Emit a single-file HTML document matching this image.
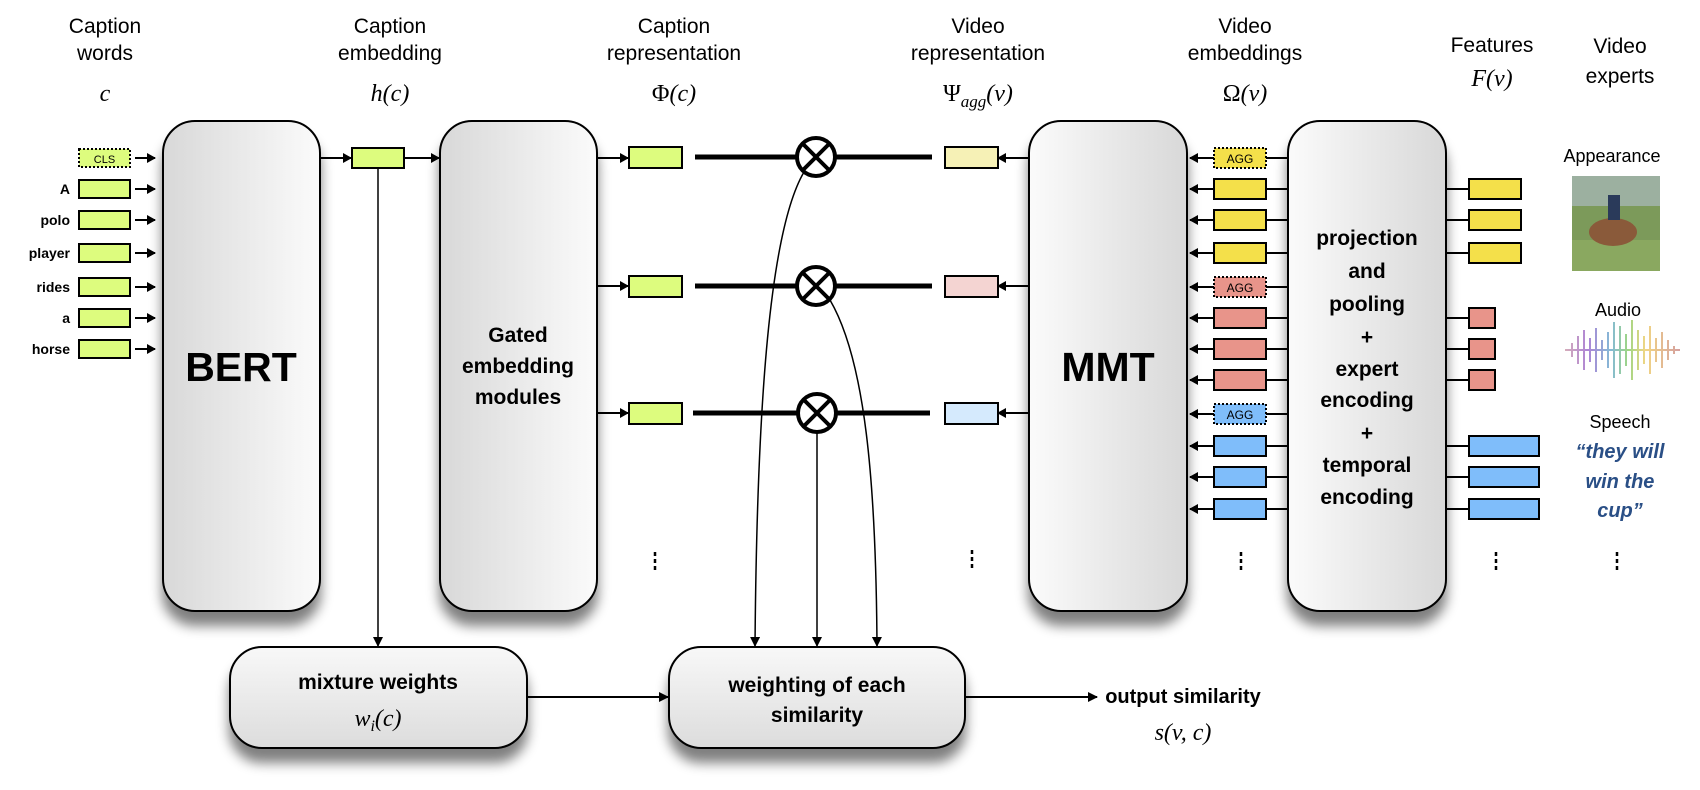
<!DOCTYPE html>
<html><head><meta charset="utf-8"><style>
html,body{margin:0;padding:0;background:#fff;}
svg{display:block;}
text{font-family:"Liberation Sans",sans-serif;}
.h{font-size:21px;text-anchor:middle;fill:#000;}
.m{font-family:"Liberation Serif",serif;font-style:italic;font-size:24px;text-anchor:middle;}
.w{font-size:14px;font-weight:bold;text-anchor:end;}
.b{font-size:21px;font-weight:bold;text-anchor:middle;}
</style></head><body>
<svg width="1700" height="790" viewBox="0 0 1700 790" xmlns="http://www.w3.org/2000/svg">
<defs>
<linearGradient id="g" x1="0" x2="1" y1="0" y2="0"><stop offset="0" stop-color="#d8d8d8"/><stop offset="1" stop-color="#fbfbfb"/></linearGradient>
<linearGradient id="g2" x1="0" x2="1" y1="0" y2="0"><stop offset="0" stop-color="#fbfbfb"/><stop offset="1" stop-color="#d8d8d8"/></linearGradient>
<linearGradient id="g3" x1="0" x2="0" y1="0" y2="1"><stop offset="0" stop-color="#f8f8f8"/><stop offset="1" stop-color="#dcdcdc"/></linearGradient>
<filter id="sh" x="-20%" y="-10%" width="140%" height="130%"><feGaussianBlur in="SourceAlpha" stdDeviation="6"/><feOffset dy="14"/><feComponentTransfer><feFuncA type="linear" slope="0.5"/></feComponentTransfer><feMerge><feMergeNode/><feMergeNode in="SourceGraphic"/></feMerge></filter>
<marker id="a" markerWidth="9" markerHeight="10" refX="8" refY="5" orient="auto" markerUnits="userSpaceOnUse"><path d="M0,0 L9,5 L0,10z" fill="#000"/></marker>
<marker id="a2" markerWidth="10" markerHeight="10" refX="9" refY="5" orient="auto" markerUnits="userSpaceOnUse"><path d="M0,0 L10,5 L0,10z" fill="#000"/></marker>
<linearGradient id="wave" x1="0" x2="1"><stop offset="0" stop-color="#c9a"/><stop offset=".2" stop-color="#96c"/><stop offset=".4" stop-color="#6ac"/><stop offset=".55" stop-color="#8c6"/><stop offset=".7" stop-color="#ec6"/><stop offset="1" stop-color="#c88"/></linearGradient>
</defs>

<text class="h" x="105" y="33">Caption</text><text class="h" x="105" y="60">words</text><text class="m" x="105" y="101">c</text>
<text class="h" x="390" y="33">Caption</text><text class="h" x="390" y="60">embedding</text><text class="m" x="390" y="101">h(c)</text>
<text class="h" x="674" y="33">Caption</text><text class="h" x="674" y="60">representation</text><text class="m" x="674" y="101"><tspan font-style="normal">Φ</tspan>(c)</text>
<text class="h" x="978" y="33">Video</text><text class="h" x="978" y="60">representation</text><text class="m" x="978" y="101"><tspan font-style="normal">Ψ</tspan><tspan font-size="17" dy="6">agg</tspan><tspan dy="-6">(v)</tspan></text>
<text class="h" x="1245" y="33">Video</text><text class="h" x="1245" y="60">embeddings</text><text class="m" x="1245" y="101"><tspan font-style="normal">Ω</tspan>(v)</text>
<text class="h" x="1492" y="52">Features</text><text class="m" x="1492" y="86">F(v)</text>
<text class="h" x="1620" y="53">Video</text><text class="h" x="1620" y="83">experts</text>

<g filter="url(#sh)" stroke="#000" stroke-width="2">
<rect x="163" y="121" width="157" height="490" rx="32" fill="url(#g)"/>
<rect x="440" y="121" width="157" height="490" rx="32" fill="url(#g)"/>
<rect x="1029" y="121" width="158" height="490" rx="32" fill="url(#g2)"/>
<rect x="1288" y="121" width="158" height="490" rx="32" fill="url(#g2)"/>
<rect x="230" y="647" width="297" height="101" rx="32" fill="url(#g3)"/>
<rect x="669" y="647" width="296" height="101" rx="32" fill="url(#g3)"/>
</g>
<text x="241" y="381" font-size="41" font-weight="bold" text-anchor="middle">BERT</text>
<text x="1108" y="381" font-size="41" font-weight="bold" text-anchor="middle">MMT</text>
<text class="b" x="518" y="342">Gated</text><text class="b" x="518" y="373">embedding</text><text class="b" x="518" y="404">modules</text>
<text class="b" x="1367" y="245">projection</text><text class="b" x="1367" y="278">and</text><text class="b" x="1367" y="311">pooling</text><text class="b" x="1367" y="344">+</text><text class="b" x="1367" y="376">expert</text><text class="b" x="1367" y="407">encoding</text><text class="b" x="1367" y="440">+</text><text class="b" x="1367" y="472">temporal</text><text class="b" x="1367" y="504">encoding</text>
<text class="b" x="378" y="689">mixture weights</text><text class="m" x="378" y="726">w<tspan font-size="16" dy="5">i</tspan><tspan dy="-5">(c)</tspan></text>
<text class="b" x="817" y="692">weighting of each</text><text class="b" x="817" y="722">similarity</text>
<text class="b" x="1183" y="703" style="font-size:20px">output similarity</text><text class="m" x="1183" y="740">s(v, c)</text>

<g stroke="#000" stroke-width="2" fill="#ddfc7e">
<rect x="79" y="149" width="51" height="18" stroke-dasharray="2,2"/>
<rect x="79" y="180" width="51" height="18"/><rect x="79" y="211" width="51" height="18"/>
<rect x="79" y="244" width="51" height="18"/><rect x="79" y="278" width="51" height="18"/>
<rect x="79" y="309" width="51" height="18"/><rect x="79" y="340" width="51" height="18"/>
</g>
<text x="104.5" y="163" font-size="11" text-anchor="middle">CLS</text>
<text class="w" x="70" y="194">A</text><text class="w" x="70" y="225">polo</text><text class="w" x="70" y="258">player</text><text class="w" x="70" y="292">rides</text><text class="w" x="70" y="323">a</text><text class="w" x="70" y="354">horse</text>
<g stroke="#000" stroke-width="2" marker-end="url(#a)">
<line x1="135" y1="158" x2="155" y2="158"/><line x1="135" y1="189" x2="155" y2="189"/><line x1="135" y1="220" x2="155" y2="220"/><line x1="135" y1="253" x2="155" y2="253"/><line x1="135" y1="287" x2="155" y2="287"/><line x1="135" y1="318" x2="155" y2="318"/><line x1="135" y1="349" x2="155" y2="349"/>
<line x1="320" y1="158" x2="351" y2="158"/><line x1="404" y1="158" x2="439" y2="158"/>
<line x1="597" y1="158" x2="628" y2="158"/><line x1="597" y1="286" x2="628" y2="286"/><line x1="597" y1="413" x2="628" y2="413"/>
<line x1="1029" y1="158" x2="998" y2="158"/><line x1="1029" y1="286" x2="998" y2="286"/><line x1="1029" y1="413" x2="998" y2="413"/>
</g>
<rect x="352" y="148" width="52" height="20" fill="#ddfc7e" stroke="#000" stroke-width="2"/>
<g fill="#ddfc7e" stroke="#000" stroke-width="2">
<rect x="629" y="147" width="53" height="21"/><rect x="629" y="276" width="53" height="21"/><rect x="629" y="403" width="53" height="21"/>
</g>
<rect x="945" y="147" width="53" height="21" fill="#f6f1b6" stroke="#000" stroke-width="2"/>
<rect x="945" y="276" width="53" height="21" fill="#f4d4d2" stroke="#000" stroke-width="2"/>
<rect x="945" y="403" width="53" height="21" fill="#d5eafd" stroke="#000" stroke-width="2"/>
<g stroke="#000" stroke-width="5">
<line x1="695" y1="157" x2="800" y2="157"/><line x1="834" y1="157" x2="932" y2="157"/>
<line x1="695" y1="286" x2="800" y2="286"/><line x1="834" y1="286" x2="932" y2="286"/>
<line x1="693" y1="413" x2="800" y2="413"/><line x1="834" y1="413" x2="930" y2="413"/>
</g>
<g stroke="#000" stroke-width="4" fill="#fff">
<circle cx="816" cy="157" r="19"/><circle cx="816" cy="286" r="19"/><circle cx="817" cy="413" r="19"/>
</g>
<g stroke="#000" stroke-width="4">
<path d="M803,144 L829,170 M829,144 L803,170"/><path d="M803,273 L829,299 M829,273 L803,299"/><path d="M804,400 L830,426 M830,400 L804,426"/>
</g>
<g stroke="#000" stroke-width="1.5" fill="none" marker-end="url(#a2)">
<path d="M804,172 C770,230 757,400 755,646"/>
<path d="M830,300 C865,360 876,480 877,646"/>
<line x1="817" y1="432" x2="817" y2="646"/>
<line x1="378" y1="168" x2="378" y2="646"/>
</g>
<g stroke="#000" stroke-width="2" marker-end="url(#a2)">
<line x1="527" y1="697" x2="668" y2="697"/><line x1="965" y1="697" x2="1097" y2="697"/>
</g>
<g stroke="#000" stroke-width="2" marker-end="url(#a)">
<line x1="1288" y1="158" x2="1190" y2="158"/><line x1="1288" y1="189" x2="1190" y2="189"/><line x1="1288" y1="220" x2="1190" y2="220"/><line x1="1288" y1="253" x2="1190" y2="253"/><line x1="1288" y1="287" x2="1190" y2="287"/><line x1="1288" y1="318" x2="1190" y2="318"/><line x1="1288" y1="349" x2="1190" y2="349"/><line x1="1288" y1="380" x2="1190" y2="380"/><line x1="1288" y1="414" x2="1190" y2="414"/><line x1="1288" y1="446" x2="1190" y2="446"/><line x1="1288" y1="477" x2="1190" y2="477"/><line x1="1288" y1="509" x2="1190" y2="509"/>
</g>
<g stroke="#000" stroke-width="2">
<rect x="1214" y="148" width="52" height="20" fill="#f4e04a" stroke-dasharray="2,2"/>
<rect x="1214" y="179" width="52" height="20" fill="#f4e04a"/><rect x="1214" y="210" width="52" height="20" fill="#f4e04a"/><rect x="1214" y="243" width="52" height="20" fill="#f4e04a"/>
<rect x="1214" y="277" width="52" height="20" fill="#e8948a" stroke-dasharray="2,2"/>
<rect x="1214" y="308" width="52" height="20" fill="#e8948a"/><rect x="1214" y="339" width="52" height="20" fill="#e8948a"/><rect x="1214" y="370" width="52" height="20" fill="#e8948a"/>
<rect x="1214" y="404" width="52" height="20" fill="#7fbdfa" stroke-dasharray="2,2"/>
<rect x="1214" y="436" width="52" height="20" fill="#7fbdfa"/><rect x="1214" y="467" width="52" height="20" fill="#7fbdfa"/><rect x="1214" y="499" width="52" height="20" fill="#7fbdfa"/>
</g>
<text x="1240" y="163" font-size="12" text-anchor="middle">AGG</text>
<text x="1240" y="292" font-size="12" text-anchor="middle">AGG</text>
<text x="1240" y="419" font-size="12" text-anchor="middle">AGG</text>
<g stroke="#000" stroke-width="2">
<line x1="1446" y1="189" x2="1469" y2="189"/><line x1="1446" y1="220" x2="1469" y2="220"/><line x1="1446" y1="253" x2="1469" y2="253"/>
<line x1="1446" y1="318" x2="1469" y2="318"/><line x1="1446" y1="349" x2="1469" y2="349"/><line x1="1446" y1="380" x2="1469" y2="380"/>
<line x1="1446" y1="446" x2="1469" y2="446"/><line x1="1446" y1="477" x2="1469" y2="477"/><line x1="1446" y1="509" x2="1469" y2="509"/>
<rect x="1469" y="179" width="52" height="20" fill="#f4e04a"/><rect x="1469" y="210" width="52" height="20" fill="#f4e04a"/><rect x="1469" y="243" width="52" height="20" fill="#f4e04a"/>
<rect x="1469" y="308" width="26" height="20" fill="#e8948a"/><rect x="1469" y="339" width="26" height="20" fill="#e8948a"/><rect x="1469" y="370" width="26" height="20" fill="#e8948a"/>
<rect x="1469" y="436" width="70" height="20" fill="#7fbdfa"/><rect x="1469" y="467" width="70" height="20" fill="#7fbdfa"/><rect x="1469" y="499" width="70" height="20" fill="#7fbdfa"/>
</g>
<g stroke="#000" stroke-width="2.5" stroke-dasharray="4,3">
<line x1="655" y1="552" x2="655" y2="570"/><line x1="972" y1="550" x2="972" y2="568"/><line x1="1241" y1="552" x2="1241" y2="570"/><line x1="1496" y1="552" x2="1496" y2="570"/><line x1="1617" y1="552" x2="1617" y2="570"/>
</g>
<text x="1612" y="162" font-size="18" text-anchor="middle">Appearance</text>
<rect x="1572" y="176" width="88" height="95" fill="#7c9a5a"/>
<rect x="1572" y="176" width="88" height="30" fill="#9cb0a0"/>
<rect x="1572" y="240" width="88" height="31" fill="#8aa860"/>
<ellipse cx="1613" cy="232" rx="24" ry="14" fill="#8a5a3a"/>
<rect x="1608" y="195" width="12" height="25" fill="#2a3a5a"/>
<text x="1618" y="316" font-size="18" text-anchor="middle">Audio</text>
<g stroke="url(#wave)" stroke-width="2" opacity="0.8">
<path d="M1565,350 h115 M1572,343v14 M1578,336v28 M1584,330v40 M1590,338v24 M1596,328v44 M1602,340v20 M1608,332v36 M1614,322v56 M1620,326v48 M1626,334v32 M1632,320v60 M1638,330v40 M1644,336v28 M1650,326v48 M1656,338v24 M1662,332v36 M1668,340v20 M1674,346v8"/>
</g>
<text x="1620" y="428" font-size="18" text-anchor="middle">Speech</text>
<g font-size="20" font-weight="bold" font-style="italic" fill="#2a4f86" text-anchor="middle">
<text x="1620" y="458">“they will</text><text x="1620" y="488">win the</text><text x="1620" y="517">cup”</text>
</g>
</svg>
</body></html>
